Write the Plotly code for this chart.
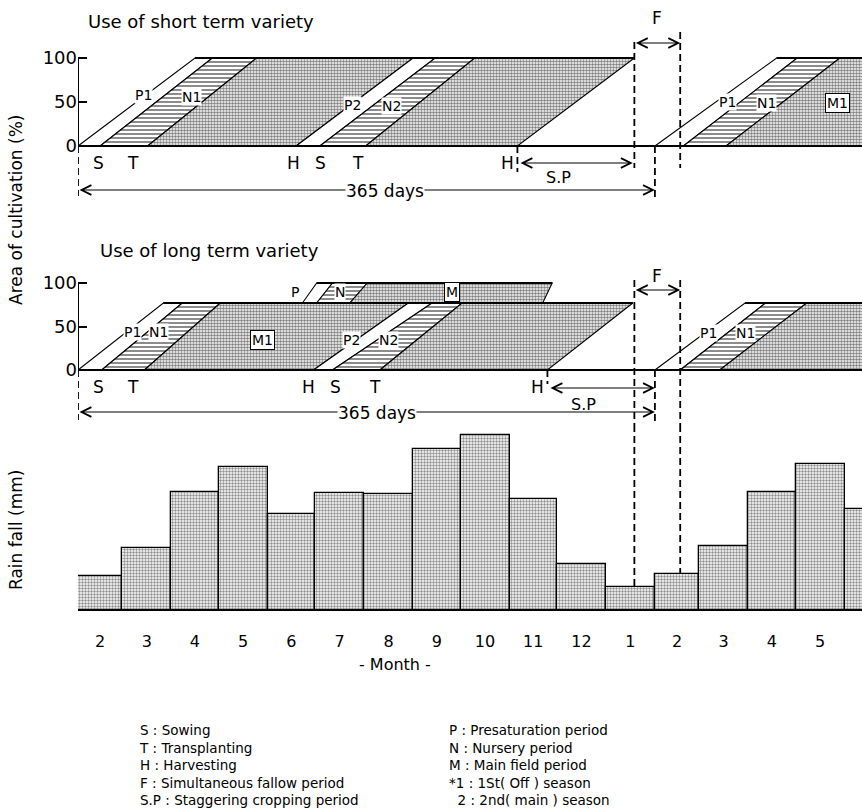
import plotly.graph_objects as go

# ---------------- data ----------------
months = ["2", "3", "4", "5", "6", "7", "8", "9", "10", "11", "12", "1", "2", "3", "4", "5", "6"]
month_days = [28, 31, 30, 31, 30, 31, 31, 30, 31, 30, 31, 31, 28, 31, 30, 31, 30]
rainfall_mm = [68, 124, 236, 286, 192, 234, 232, 322, 350, 222, 92, 46, 72, 128, 236, 292, 202]

# stage boundary lines: day where the line meets 0 % area, day where it meets the top
short_start = [0, 14, 44, 138, 153, 182, 278, 365, 383, 410, 520]
short_end = [74, 85, 113, 212, 226, 251, 352, 442, 455, 482, 520]
short_kinds = ["P", "N", "M", "P", "N", "M", "", "P", "N", "M"]
short_level = 100

long_start = [0, 15, 42, 149, 161, 191, 297, 365, 381, 406, 520]
long_end = [54, 66, 90, 209, 224, 243, 351, 422, 435, 461, 520]
long_kinds = ["P", "N", "M", "P", "N", "M", "", "P", "N", "M"]
long_level = 77

upper_start = [142, 151, 172, 294]
upper_end = [151, 161, 183, 300]
upper_kinds = ["P", "N", "M"]
upper_level = 100

fallow_days = [352, 381]
cycle_days = 365
short_sp = [278, 352]
long_sp = [297, 365]

left_items = ["S : Sowing", "T : Transplanting", "H : Harvesting",
              "F : Simultaneous fallow period", "S.P : Staggering cropping period"]
right_items = ["P : Presaturation period", "N : Nursery period", "M : Main field period",
               "*1 : 1St( Off ) season", "  2 : 2nd( main ) season"]

# ---------------- helpers for text placement ----------------
W, H = 862, 809
X0PX, PXDAY = 78, 1.5806


def dx(px):
    return (px - X0PX) / PXDAY


def vy1(py):
    return (146 - py) / 0.88


def vy2(py):
    return (370 - py) / 0.87


def pp(py):
    return 1 - py / H


FONT = "DejaVu Sans"
fig = go.Figure()

styles = {
    "P": dict(fillcolor="white"),
    "N": dict(fillcolor="white",
              fillpattern=dict(shape="-", fgcolor="black", bgcolor="white", size=4, solidity=0.45)),
    "M": dict(fillcolor="white",
              fillpattern=dict(shape=".", fgcolor="black", bgcolor="white", size=3, solidity=0.55)),
}


def add_bands(starts, ends, kinds, lo, hi, yax):
    for i, k in enumerate(kinds):
        if not k:
            continue
        xs = [starts[i], starts[i + 1], ends[i + 1], ends[i], starts[i]]
        ys = [lo, lo, hi, hi, lo]
        fig.add_trace(go.Scatter(x=xs, y=ys, fill="toself", mode="lines",
                                 line=dict(color="black", width=1.1),
                                 yaxis=yax, hoverinfo="skip", showlegend=False,
                                 **styles[k]))


def add_line(xs, ys, yax, width=2, dash=None):
    fig.add_trace(go.Scatter(x=xs, y=ys, mode="lines",
                             line=dict(color="black", width=width, dash=dash),
                             yaxis=yax, hoverinfo="skip", showlegend=False))


add_bands(short_start, short_end, short_kinds, 0, short_level, "y")
add_bands(long_start, long_end, long_kinds, 0, long_level, "y2")
add_bands(upper_start, upper_end, upper_kinds, long_level, upper_level, "y2")

# outlines
add_line([0, short_start[-1]], [0, 0], "y")
add_line([short_end[0], short_end[6]], [short_level] * 2, "y")
add_line([short_end[7], short_end[-1]], [short_level] * 2, "y")
add_line([0, 0], [0, 100], "y")

add_line([0, long_start[-1]], [0, 0], "y2")
add_line([long_end[0], long_end[6]], [long_level] * 2, "y2")
add_line([long_end[7], long_end[-1]], [long_level] * 2, "y2")
add_line([upper_end[0], upper_end[-1]], [upper_level] * 2, "y2")
add_line([0, 0], [0, 100], "y2")

DASH = "7px,4px"
# dashed guides, top panel
add_line([0, 0], [0, vy1(196)], "y", 1.8, DASH)
add_line([short_sp[0]] * 2, [0, vy1(172)], "y", 1.8, DASH)
add_line([cycle_days] * 2, [0, vy1(197)], "y", 1.8, DASH)
add_line([fallow_days[0]] * 2, [vy1(42), vy1(168)], "y", 1.8, DASH)
add_line([fallow_days[1]] * 2, [vy1(32), vy1(168)], "y", 1.8, DASH)
# middle panel
y2bot = vy2(425)
add_line([0, 0], [0, vy2(420)], "y2", 1.8, DASH)
add_line([long_sp[0]] * 2, [0, vy2(384)], "y2", 1.8, DASH)
add_line([cycle_days] * 2, [0, vy2(422)], "y2", 1.8, DASH)
add_line([fallow_days[0]] * 2, [vy2(280), y2bot], "y2", 1.8, DASH)
add_line([fallow_days[1]] * 2, [vy2(280), y2bot], "y2", 1.8, DASH)

# rainfall bars
starts = []
acc = 0
for d in month_days:
    starts.append(acc)
    acc += d
centers = [s + d / 2 for s, d in zip(starts, month_days)]
fig.add_trace(go.Bar(x=centers, y=rainfall_mm, width=month_days, yaxis="y3",
                     marker=dict(color="white",
                                 pattern=dict(shape=".", fgcolor="#222", bgcolor="white",
                                              size=3, solidity=0.5),
                                 line=dict(color="black", width=1.3)),
                     hoverinfo="skip", showlegend=False))
add_line([0, starts[-1] + month_days[-1]], [0, 0], "y3", 2)
RAIN_TOP = 370
jan_i = months.index("1")
add_line([fallow_days[0]] * 2, [RAIN_TOP, rainfall_mm[jan_i]], "y3", 1.8, DASH)
add_line([fallow_days[1]] * 2, [RAIN_TOP, rainfall_mm[jan_i + 1]], "y3", 1.8, DASH)

# ---------------- annotations ----------------
ann = []


def text(x, y, s, size=15, xref="x", yref="y", box=False, bg=None, xanchor="center", **kw):
    d = dict(x=x, y=y, xref=xref, yref=yref, text=s, showarrow=False,
             xanchor=xanchor, yanchor="middle",
             font=dict(family=FONT, size=size, color="black"))
    if box:
        d.update(bgcolor="white", bordercolor="black", borderwidth=1, borderpad=1)
    elif bg:
        d.update(bgcolor=bg, borderpad=0)
    d.update(kw)
    ann.append(d)


def arrow(x0, x1, y, yref):
    ann.append(dict(x=x1, y=y, ax=x0, ay=y, xref="x", yref=yref, axref="x", ayref=yref,
                    text="", showarrow=True, arrowside="end+start", arrowhead=5,
                    startarrowhead=5, arrowsize=1.6, startarrowsize=1.6,
                    arrowwidth=1.2, arrowcolor="black", standoff=0, startstandoff=0))


# titles and axis titles
text(86 / W, pp(22), "Use of short term variety", 18, "paper", "paper", xanchor="left")
text(98 / W, pp(250), "Use of long term variety", 18, "paper", "paper", xanchor="left")
text(16 / W, pp(210), "Area of cultivation (%)", 17, "paper", "paper", textangle=-90)
text(16 / W, pp(530), "Rain fall (mm)", 17, "paper", "paper", textangle=-90)
text(395 / W, pp(664), "- Month -", 16, "paper", "paper")

# top panel labels
for s, px, py, b in [("P1", 143, 95, False), ("N1", 191, 97, False), ("P2", 352, 105, False),
                     ("N2", 391, 106, False), ("P1", 727, 102, False), ("N1", 766, 103, False),
                     ("M1", 837, 103, True)]:
    text(dx(px), vy1(py), s, 14, "x", "y", box=b, bg=None if b else "white")
for s, px in [("S", 98), ("T", 133), ("H", 293), ("S", 320), ("T", 358), ("H", 507)]:
    text(dx(px), vy1(163), s, 17, "x", "y")
arrow(0, cycle_days, vy1(190), "y")
text(dx(385), vy1(191), "365 days", 17, "x", "y", bg="white")
arrow(short_sp[0] + 1, short_sp[1] - 1, vy1(163), "y")
text(dx(558), vy1(177), "S.P", 16, "x", "y")
arrow(fallow_days[0], fallow_days[1], vy1(43), "y")
text(dx(657), vy1(18), "F", 17, "x", "y")

# middle panel labels
for s, px, py, b in [("P1", 132, 332, False), ("N1", 158, 332, False), ("M1", 262, 340, True),
                     ("P2", 351, 340, False), ("N2", 388, 340, False), ("P", 295, 292, False),
                     ("N", 340, 292, False), ("M", 452, 292, True), ("P1", 708, 333, False),
                     ("N1", 745, 333, False)]:
    text(dx(px), vy2(py), s, 14, "x", "y2", box=b, bg=None if b else "white")
for s, px in [("S", 98), ("T", 133), ("H", 308), ("S", 335), ("T", 375), ("H", 537)]:
    text(dx(px), vy2(387), s, 17, "x", "y2")
arrow(0, cycle_days, vy2(412), "y2")
text(dx(377), vy2(413), "365 days", 17, "x", "y2", bg="white")
arrow(long_sp[0] + 1, long_sp[1], vy2(388), "y2")
text(dx(583), vy2(404), "S.P", 16, "x", "y2")
arrow(fallow_days[0], fallow_days[1], vy2(290), "y2")
text(dx(657), vy2(276), "F", 17, "x", "y2")

# legend block (one multi-line text per column)
text(137 / W, pp(765), "<br>".join(left_items), 13.5, "paper", "paper",
     xanchor="left", align="left")
text(447 / W, pp(765), "<br>".join(right_items), 13.5, "paper", "paper",
     xanchor="left", align="left")

# ---------------- layout ----------------
yax_common = dict(showgrid=False, zeroline=False, showline=False, anchor="x",
                  tickvals=[0, 50, 100], ticks="inside", ticklen=9, tickwidth=1.5,
                  tickcolor="black", tickfont=dict(family=FONT, size=18, color="black"))
fig.update_layout(
    width=W, height=H, margin=dict(l=0, r=0, t=0, b=0),
    paper_bgcolor="white", plot_bgcolor="rgba(0,0,0,0)",
    bargap=0, showlegend=False,
    xaxis=dict(domain=[X0PX / W, 1], range=[0, (W - X0PX) / PXDAY], anchor="y3",
               showgrid=False, zeroline=False, showline=False, ticks="",
               tickvals=centers, ticktext=months,
               tickfont=dict(family=FONT, size=16, color="black")),
    yaxis=dict(domain=[pp(200), 1], range=[vy1(200), vy1(0)], **yax_common),
    yaxis2=dict(domain=[pp(425), pp(205)], range=[vy2(425), vy2(205)], **yax_common),
    yaxis3=dict(domain=[pp(630), pp(425)], range=[(610 - 630) / 0.5, RAIN_TOP], anchor="x",
                visible=False),
    annotations=ann,
)

fig.write_html("out.html", config={"displayModeBar": False},
               post_script="document.body.style.margin='0px';")
